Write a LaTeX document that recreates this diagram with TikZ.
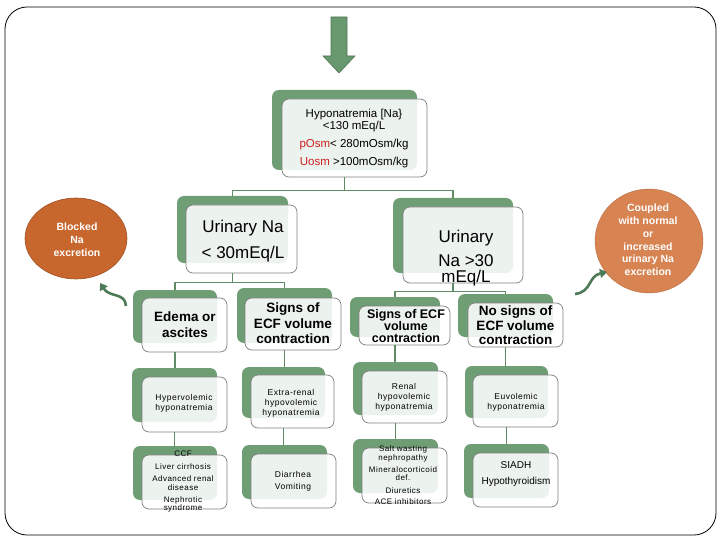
\documentclass[tikz,border=0pt]{standalone}
\usepackage{fontspec}
\setmainfont{Liberation Sans}
\newfontfamily\spaced{Liberation Sans}[LetterSpace=6]
\usetikzlibrary{arrows.meta,shapes.geometric}
\definecolor{shade}{RGB}{111,158,117}
\definecolor{conncol}{RGB}{98,140,104}
\definecolor{boxline}{RGB}{128,128,128}
\definecolor{orangeA}{RGB}{200,103,45}
\definecolor{orangeB}{RGB}{216,131,82}
\definecolor{arrgreen}{RGB}{78,122,88}
\definecolor{arrfill}{RGB}{104,152,110}
\definecolor{arrline}{RGB}{80,120,86}
\definecolor{redtxt}{RGB}{204,30,30}
\newcommand\fs[2]{\fontsize{#1}{#2}\selectfont}
\tikzset{
  shadowbox/.style={fill=shade, rounded corners=7pt, inner sep=0pt},
  frontbox/.style={draw=boxline, line width=0.7pt, fill=white, fill opacity=0.87, rounded corners=7pt, inner sep=0pt},
  txt/.style={align=center, inner sep=0pt, text=black},
  conn/.style={draw=conncol, line width=1.6pt},
  bubbleA/.style={ellipse, fill=orangeA, draw=orangeA!80!black, line width=0.6pt, inner sep=0pt},
  bubbleB/.style={ellipse, fill=orangeB, draw=orangeB!85!black, line width=0.4pt, inner sep=0pt},
  bubtxt/.style={align=center, inner sep=0pt, text=white, font=\fs{10.5}{13}\bfseries},
  curvy/.style={draw=arrgreen, line width=2.6pt, -{Triangle[length=7pt,width=9pt]}},
}
% name, shadow x1 y1 x2 y2, front x1 y1 x2 y2
\newcommand\gbox[9]{%
  \node[shadowbox, minimum width={#4-#2}, minimum height={#5-#3}] (#1S) at ({(#2+#4)/2},{(#3+#5)/2}) {};
  \node[frontbox, minimum width={#8-#6}, minimum height={#9-#7}] (#1) at ({(#6+#8)/2},{(#7+#9)/2}) {};}
\begin{document}
\begin{tikzpicture}[x=1pt,y=-1pt]
\useasboundingbox (0,0) rectangle (720,540);
% frame
\draw[line width=0.8pt, rounded corners=22pt] (5,7) rectangle (716,535);
% top block arrow
\draw[draw=arrline, fill=arrfill, line width=0.6pt] (331,17) -- (347,17) -- (347,56) -- (355,56) -- (339,73) -- (323,56) -- (331,56) -- cycle;
% boxes
\gbox{main}{272}{90}{417}{170}{282}{99}{427}{177}
\gbox{lna}{177}{196}{288}{263}{186}{205}{297}{273}
\gbox{hna}{393}{198}{513}{273}{403}{207}{523}{283}
\gbox{ede}{133}{290}{217}{343}{142}{298}{227}{352}
\gbox{sgn}{237}{288}{332}{343}{245}{298}{341}{350}
\gbox{sgr}{350}{297}{440}{337}{359}{306}{450}{345}
\gbox{nos}{458}{294}{553}{337}{468}{303}{563}{347}
\gbox{hyv}{132}{368}{217}{422}{142}{377}{227}{432}
\gbox{exr}{242}{367}{325}{418}{251}{375}{334}{428}
\gbox{ren}{353}{362}{438}{415}{362}{371}{447}{423}
\gbox{euv}{465}{366}{548}{418}{473}{375}{558}{427}
\gbox{ccf}{133}{446}{217}{500}{142}{455}{227}{509}
\gbox{dia}{242}{445}{327}{499}{251}{454}{336}{508}
\gbox{slt}{353}{439}{438}{493}{362}{448}{447}{503}
\gbox{sia}{464}{444}{549}{498}{473}{453}{558}{507}
% connectors
\draw[conn] (mainS.center |- main.south) -- ++(0,13) -| (lnaS.north);
\draw[conn] (mainS.center |- main.south) -- ++(0,13) -| (hnaS.north);
\draw[conn] (lnaS.center |- lna.south) -- ++(0,9) -| (edeS.north);
\draw[conn] (lnaS.center |- lna.south) -- ++(0,9) -| (sgnS.north);
\draw[conn] (hnaS.center |- hna.south) -- ++(0,8) -| (sgrS.north);
\draw[conn] (hnaS.center |- hna.south) -- ++(0,8) -| (nosS.north);
\draw[conn] (edeS.center |- ede.south) -- (edeS.center |- hyvS.north);
\draw[conn] (sgnS.center |- sgn.south) -- (sgnS.center |- exrS.north);
\draw[conn] (sgrS.center |- sgr.south) -- (sgrS.center |- renS.north);
\draw[conn] (nosS.center |- nos.south) -- (nosS.center |- euvS.north);
\draw[conn] (hyvS.center |- hyv.south) -- (hyvS.center |- ccfS.north);
\draw[conn] (exrS.center |- exr.south) -- (exrS.center |- diaS.north);
\draw[conn] (renS.center |- ren.south) -- (renS.center |- sltS.north);
\draw[conn] (euvS.center |- euv.south) -- (euvS.center |- siaS.north);
% texts
\node[txt, font=\fs{11.5}{12}] (mainT) at (354,139) {Hyponatremia [Na\}\\<130 mEq/L\\[6pt]\textcolor{redtxt}{pOsm}< 280mOsm/kg\\[6pt]\textcolor{redtxt}{Uosm} >100mOsm/kg};
\node[txt, font=\fs{17}{26}] (lnaT) at (243,241) {Urinary Na\\< 30mEq/L};
\node[txt, font=\fs{17}{24}] (hnaT) at (466,258) {Urinary\\Na >30\\[-8pt]mEq/L};
\node[txt, font=\fs{13.5}{16}\bfseries] (edeT) at (185,325) {Edema or\\ascites};
\node[txt, font=\fs{13.5}{15.5}\bfseries] (sgnT) at (293,323.5) {Signs of\\ECF volume\\contraction};
\node[txt, font=\fs{12.5}{12}\bfseries] (sgrT) at (406,326) {Signs of ECF\\volume\\contraction};
\node[txt, font=\fs{13.5}{14.5}\bfseries] (nosT) at (515.5,325.5) {No signs of\\ECF volume\\contraction};
\node[txt, font=\spaced\fs{8.5}{9.5}] (hyvT) at (184,403.5) {Hypervolemic\\hyponatremia};
\node[txt, font=\spaced\fs{8.5}{10}] (exrT) at (291,403) {Extra-renal\\hypovolemic\\hyponatremia};
\node[txt, font=\spaced\fs{8.5}{10}] (renT) at (404,397) {Renal\\hypovolemic\\hyponatremia};
\node[txt, font=\spaced\fs{8.5}{10}] (euvT) at (516,402) {Euvolemic\\hyponatremia};
\node[txt, font=\spaced\fs{8}{8.5}] (ccfT) at (183,482) {CCF\\[4.5pt]Liver cirrhosis\\[3.5pt]Advanced renal\\disease\\[3.5pt]Nephrotic\\syndrome};
\node[txt, font=\spaced\fs{8.5}{12}] (diaT) at (293,481) {Diarrhea\\Vomiting};
\node[txt, font=\spaced\fs{8}{8.5}] (sltT) at (403,475.5) {Salt wasting\\nephropathy\\[3.5pt]Mineralocorticoid\\def.\\[4.5pt]Diuretics\\[2.5pt]ACE inhibitors};
\node[txt, font=\fs{10}{16}] (siaT) at (516,474) {SIADH\\Hypothyroidism};
% bubbles
\node[bubbleA, minimum width=102pt, minimum height=81pt] (blk) at (76,238.5) {};
\node[bubtxt] (blkT) at (77,240) {Blocked\\Na\\excretion};
\node[bubbleB, minimum width=108pt, minimum height=104pt] (cpl) at (649,241) {};
\node[bubtxt, font=\fs{10.5}{12.8}\bfseries] (cplT) at (648,240) {Coupled\\with normal\\or\\increased\\urinary Na\\excretion};
% curved arrows
\coordinate (la1) at (126,306);
\coordinate (la2) at (100,283);
\coordinate (ra1) at (575,294);
\coordinate (ra2) at (607,272);
\draw[curvy] (la1) .. controls (125,292) and (110,298) .. (la2);
\draw[curvy] (ra1) .. controls (592,292) and (588,276) .. (ra2);
\end{tikzpicture}
\end{document}
